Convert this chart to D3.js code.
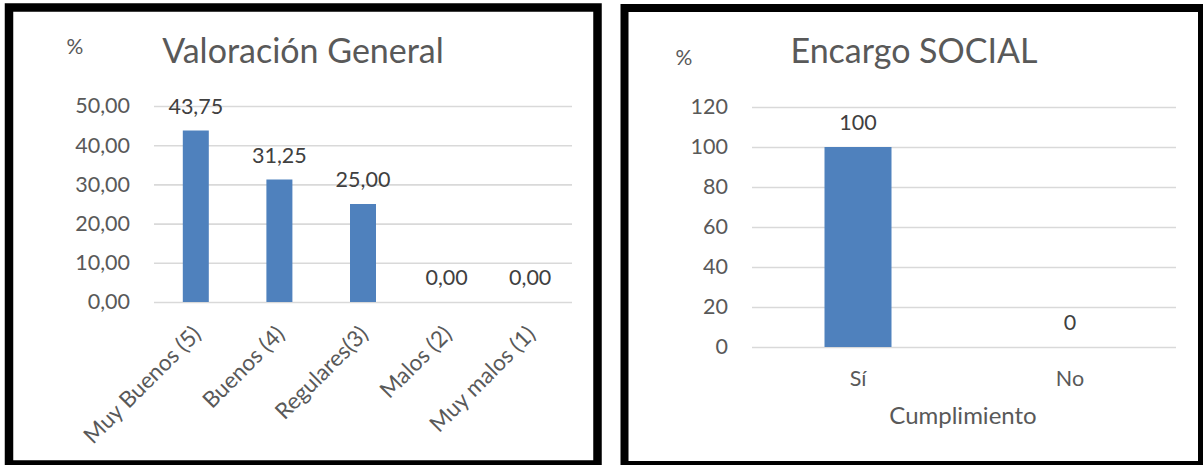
<!DOCTYPE html>
<html><head><meta charset="utf-8">
<script src="https://cdn.jsdelivr.net/npm/d3@7"></script>
<style>
html,body{margin:0;padding:0;background:#fff;}
svg{display:block;font-family:Lato,"Open Sans",sans-serif;}
</style></head>
<body>
<svg id="c" width="1203" height="465"></svg>
<script>
// ---- data ----
const titleA = "Valoración General";
const categoriesA = ["Muy Buenos (5)", "Buenos (4)", "Regulares(3)", "Malos (2)", "Muy malos (1)"];
const valuesA = [43.75, 31.25, 25.00, 0.00, 0.00];
const ticksA = [0, 10, 20, 30, 40, 50];

const titleB = "Encargo SOCIAL";
const categoriesB = ["Sí", "No"];
const valuesB = [100, 0];
const ticksB = [0, 20, 40, 60, 80, 100, 120];
const xTitleB = "Cumplimiento";
const unitLabel = "%";

const svg = d3.select("#c");
const BAR = "#4f81bd", GRID = "#d9d9d9", TXT = "#595959", LBL = "#404040";
const fmtComma = d => d3.format(".2f")(d).replace(".", ",");

// panel frames
svg.append("rect").attr("x", 9).attr("y", 7.5).attr("width", 588.5).attr("height", 457)
  .attr("fill", "#fff").attr("stroke", "#000").attr("stroke-width", 8.5);
svg.append("rect").attr("x", 624.5).attr("y", 8).attr("width", 577.5).attr("height", 457)
  .attr("fill", "#fff").attr("stroke", "#000").attr("stroke-width", 8);

function chart(o) {
  const g = svg.append("g");
  const x = d3.scaleBand().domain(o.cats).range([o.x0, o.x1]).paddingInner(o.pad).paddingOuter(o.pad / 2);
  const y = d3.scaleLinear().domain([0, o.max]).range([o.y0, o.y1]);

  // gridlines
  const grid = g.append("g").attr("transform", `translate(${o.x0},0)`)
    .call(d3.axisLeft(y).tickValues(o.ticks).tickSize(-(o.x1 - o.x0)).tickFormat(""));
  grid.select(".domain").remove();
  grid.selectAll("line").attr("stroke", GRID).attr("stroke-width", 1.6);

  // y tick labels
  const ya = g.append("g").attr("transform", `translate(${o.x0},0)`)
    .call(d3.axisLeft(y).tickValues(o.ticks).tickSize(0).tickPadding(o.x0 - o.labRight).tickFormat(o.fmt));
  ya.select(".domain").remove();
  ya.selectAll("text").attr("fill", TXT).style("font-size", o.fs + "px").style("font-family", "Lato");

  // bars
  g.selectAll("rect.bar").data(o.vals).join("rect").attr("class", "bar")
    .attr("x", (d, i) => x(o.cats[i]) + x.bandwidth() / 2 - o.bw / 2)
    .attr("width", o.bw)
    .attr("y", d => y(d)).attr("height", d => y(0) - y(d))
    .attr("fill", BAR);

  // data labels
  g.selectAll("text.lbl").data(o.vals).join("text").attr("class", "lbl")
    .attr("x", (d, i) => x(o.cats[i]) + x.bandwidth() / 2)
    .attr("y", d => y(d) - 17)
    .attr("text-anchor", "middle").attr("fill", LBL).style("font-size", o.lfs + "px")
    .text(o.lfmt);

  // x labels
  const xa = g.append("g").attr("transform", `translate(0,${o.y0})`)
    .call(d3.axisBottom(x).tickSize(0).tickPadding(0));
  xa.select(".domain").remove();
  xa.selectAll("text").attr("fill", TXT).style("font-size", o.xfs + "px").style("font-family", "Lato");
  if (o.rotate) {
    xa.selectAll("text").attr("text-anchor", "end")
      .attr("transform", "translate(1,28) rotate(-45)").attr("dy", "0.35em").attr("y", 0);
  } else {
    xa.selectAll("text").attr("y", 31).attr("dy", "0.35em");
  }

  // title
  svg.append("text").attr("x", o.tx).attr("y", 63).attr("text-anchor", "middle")
    .attr("fill", TXT).style("font-size", "34px").text(o.title);
  svg.append("text").attr("x", o.px).attr("y", o.py).attr("text-anchor", "middle")
    .attr("fill", TXT).style("font-size", "21px").text(unitLabel);
  return {x, y};
}

chart({cats: categoriesA, vals: valuesA, ticks: ticksA, max: 50,
  x0: 154, x1: 572, y0: 302, y1: 106, pad: 0.69, bw: 26, labRight: 130, fs: 21.5, lfs: 21.5, xfs: 22.5,
  fmt: fmtComma, lfmt: fmtComma, rotate: true, title: titleA, tx: 303, px: 75, py: 54});

chart({cats: categoriesB, vals: valuesB, ticks: ticksB, max: 120,
  x0: 752, x1: 1176, y0: 347, y1: 107, pad: 0.68, bw: 67, labRight: 728, fs: 21.5, lfs: 21.5, xfs: 21.5,
  fmt: d => String(d), lfmt: d => String(d), rotate: false, title: titleB, tx: 914, px: 684, py: 65});

svg.append("text").attr("x", 963).attr("y", 424).attr("text-anchor", "middle")
  .attr("fill", TXT).style("font-size", "24px").text(xTitleB);
</script>
</body></html>
